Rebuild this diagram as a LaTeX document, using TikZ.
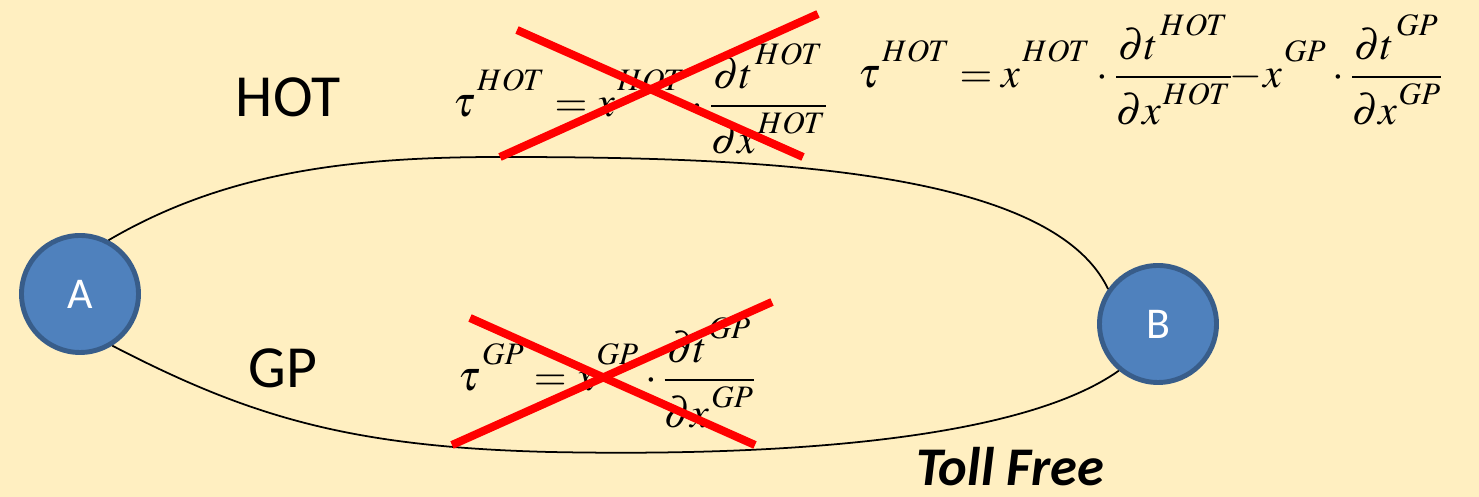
\documentclass[tikz,border=0pt]{standalone}
\usepackage{amsmath}
\usepackage{mathptmx}
\usepackage{fontspec}
\newfontfamily\labelfont{Carlito}
\usepackage{tikz}
\usetikzlibrary{positioning}
\definecolor{paper}{RGB}{255,239,193}
\definecolor{nodeblue}{RGB}{79,129,189}
\definecolor{nodeedge}{RGB}{56,93,138}
\definecolor{crossred}{RGB}{255,0,0}
\newcommand{\up}[1]{^{\mkern1mu\raisebox{0.2em}{$\scriptstyle #1$}}}

\begin{document}
\begin{tikzpicture}
    \fill[paper] (0,0) rectangle (29.58,9.94);
    \useasboundingbox (0,0) rectangle (29.58,9.94);
    \tikzset{
      city/.style={circle, fill=nodeblue, draw=nodeedge, line width=2.8pt,
                   minimum size=2.34cm, inner sep=0pt, text=white,
                   font=\labelfont\fontsize{25}{30}\selectfont},
      route/.style={font=\labelfont\fontsize{34}{40}\selectfont},
      formula/.style={inner sep=0pt, anchor=west, font=\fontsize{24}{29}\selectfont},
      strike/.style={draw=crossred, line width=4.6pt}
    }
    \node[city] (A) at (1.6,4.06) {A};
    \node[city] (B) at (23.16,3.46) {B};

    \draw[line width=1pt] (A.62) .. controls (4.5,6.5) and (7,6.8) .. (10,6.8)
      .. controls (15,6.8) and (21,6.6) .. (B.145);
    \draw[line width=1pt] (A.-58) .. controls (5,1.6) and (7,1.0) .. (11,0.9)
      .. controls (16,0.8) and (20.5,1.2) .. (B.230);

    \node[route] (hot) at (5.76,8.0) {HOT};
    \node[route] (gp) at (5.66,2.58) {GP};
    \node[anchor=base, font=\labelfont\bfseries\itshape\fontsize{31}{36}\selectfont]
      (toll) at (20.2,0.22) {Toll Free};

    \node[formula] (hotold) at (9.06,7.96)
      {$\displaystyle \tau\up{HOT} = x\up{HOT}\cdot\frac{\partial t\up{HOT}}{\partial x\up{HOT}}$};
    \node[formula] (hotnew) at (17.16,8.54)
      {$\displaystyle \tau\up{HOT} = x\up{HOT}\cdot\frac{\partial t\up{HOT}}{\partial x\up{HOT}}
        \mkern-4mu - \mkern-2mu x\up{GP}\cdot\frac{\partial t\up{GP}}{\partial x\up{GP}}$};
    \node[formula] (gpold) at (9.16,2.48)
      {$\displaystyle \tau\up{GP} = x\up{GP}\cdot\frac{\partial t\up{GP}}{\partial x\up{GP}}$};

    % crossed out
    \draw[strike] (10.34,9.34) -- (16.06,6.8);
    \draw[strike] (10,6.8) -- (16.36,9.66);
    \draw[strike] (9.4,3.58) -- (15.1,1.04);
    \draw[strike] (9.04,1.04) -- (15.44,3.9);
  \end{tikzpicture}
\end{document}
